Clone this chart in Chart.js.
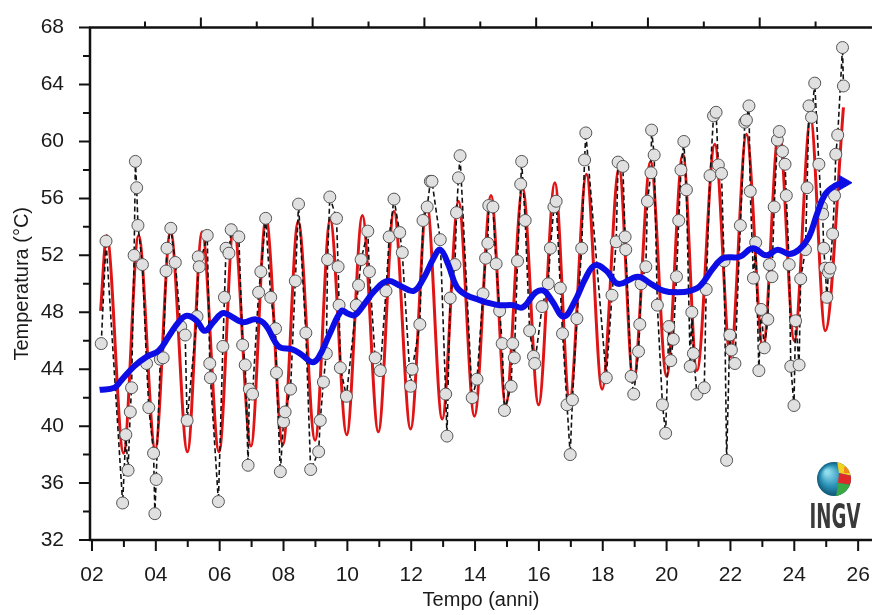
<!DOCTYPE html>
<html>
<head>
<meta charset="utf-8">
<title>Temperatura - serie temporale</title>
<script src="https://cdn.jsdelivr.net/npm/chart.js@4.4.1/dist/chart.umd.min.js"></script>
<style>
  html, body { margin: 0; padding: 0; background: #fff; }
  #contenitore { width: 882px; height: 615px; position: relative; }
</style>
</head>
<body>
<div id="contenitore"><canvas id="grafico"></canvas></div>
<script>
// ==========================================
// DATI (anni: 2 = 2002, 26 = 2026)
// ==========================================

// misure (cerchi grigi + linea tratteggiata)
const anniOss = [
  2.29, 2.44, 2.96, 3.06, 3.13, 3.20, 3.24, 3.32, 3.36, 3.40, 3.44, 3.58, 3.71, 3.78, 3.93, 3.97, 4.01, 4.14, 4.23, 4.32, 4.35, 4.47, 4.61, 4.78, 4.92, 4.98,
  5.29, 5.33, 5.36, 5.61, 5.69, 5.71, 5.96, 6.10, 6.15, 6.20, 6.29, 6.36, 6.60, 6.72, 6.80, 6.89, 6.93, 7.03, 7.22, 7.29, 7.44, 7.60, 7.75, 7.78, 7.90, 8.00, 8.05, 8.22, 8.37, 8.47, 8.70, 8.85, 9.10, 9.15, 9.25, 9.34, 9.38, 9.45, 9.66, 9.71, 9.74, 9.78, 9.97,
  10.28, 10.35, 10.43, 10.64, 10.69, 10.87, 11.03, 11.21, 11.31, 11.46, 11.64, 11.72, 11.98, 12.03, 12.27, 12.37, 12.50, 12.60, 12.65, 12.91, 13.08, 13.12, 13.22, 13.37, 13.42, 13.48, 13.53, 13.91, 14.06, 14.25, 14.33, 14.40, 14.43, 14.56, 14.66, 14.77, 14.85, 14.92, 15.13, 15.18, 15.23, 15.33, 15.43, 15.46, 15.57, 15.71, 15.83, 15.87,
  16.10, 16.29, 16.36, 16.47, 16.54, 16.67, 16.74, 16.88, 16.98, 17.05, 17.19, 17.34, 17.43, 17.47, 18.11, 18.29, 18.42, 18.48, 18.63, 18.70, 18.72, 18.89, 18.97, 19.12, 19.16, 19.20, 19.35, 19.40, 19.51, 19.53, 19.61, 19.71, 19.87, 19.97,
  20.07, 20.13, 20.21, 20.31, 20.38, 20.45, 20.54, 20.62, 20.74, 20.79, 20.84, 20.95, 21.18, 21.24, 21.36, 21.47, 21.55, 21.62, 21.72, 21.80, 21.88, 21.98, 22.03, 22.14, 22.31, 22.45, 22.50, 22.58, 22.62, 22.72, 22.79, 22.89, 22.96, 23.06, 23.17, 23.22, 23.30, 23.37, 23.47, 23.53, 23.63, 23.71, 23.75, 23.84, 23.89, 23.99, 24.04, 24.15, 24.20, 24.35, 24.40, 24.46, 24.54, 24.64, 24.77, 24.85, 24.89, 24.92, 24.97, 25.02, 25.07, 25.12, 25.20, 25.26, 25.30, 25.36, 25.51, 25.54
];
const tempOss = [
  45.8, 53.0, 34.6, 39.4, 36.9, 41.0, 42.7, 52.0, 58.6, 56.75, 54.1, 51.35, 44.4, 41.3, 38.1, 33.85, 36.25, 44.7, 44.8, 50.9, 52.5, 53.9, 51.5, 47.0, 46.4, 40.4,
  47.7, 51.9, 51.2, 53.4, 44.4, 43.4, 34.7, 45.6, 49.05, 52.5, 52.15, 53.8, 53.3, 45.7, 44.3, 37.25, 42.6, 42.25, 49.4, 50.85, 54.6, 49.05, 46.85, 43.75, 36.8, 40.3, 41.0, 42.6, 50.2, 55.6, 46.55, 36.95, 38.2, 40.4, 43.1, 45.1, 51.7, 56.1, 54.6, 51.2, 48.5, 44.1, 42.1,
  48.5, 49.9, 51.7, 53.7, 50.85, 44.8, 43.9, 49.5, 53.3, 55.95, 53.6, 52.2, 42.8, 44.0, 47.15, 54.45, 55.4, 57.2, 57.2, 53.1, 42.25, 39.3, 49.0, 51.35, 55.0, 57.45, 59.0, 42.0, 43.3, 49.3, 51.8, 52.85, 55.5, 55.4, 51.4, 48.1, 45.8, 41.1, 42.8, 45.8, 44.8, 51.6, 57.0, 58.6, 54.45, 46.7, 44.9, 44.4,
  48.4, 50.0, 52.5, 55.4, 55.8, 49.7, 46.5, 41.5, 38.0, 41.85, 47.55, 52.5, 58.7, 60.6, 43.4, 49.2, 52.95, 58.55, 58.25, 53.3, 52.4, 43.5, 42.25, 45.25, 47.15, 50.0, 51.2, 55.8, 57.8, 60.8, 59.05, 48.5, 41.5, 39.5,
  47.0, 44.6, 46.1, 50.5, 54.45, 58.0, 60.0, 56.6, 44.2, 48.0, 45.1, 42.25, 42.7, 49.6, 57.6, 61.8, 62.05, 58.35, 57.75, 51.6, 37.6, 46.4, 45.35, 44.4, 54.1, 61.35, 61.5, 62.5, 56.5, 50.4, 52.9, 43.9, 48.2, 45.5, 47.5, 51.35, 50.5, 55.4, 60.1, 60.7, 59.3, 58.4, 56.2, 51.35, 44.2, 41.45, 47.4, 44.3, 50.35, 52.4, 56.75, 62.5, 61.7, 64.1, 58.4, 55.4, 54.9, 52.5, 51.1, 49.05, 50.8, 51.1, 53.5, 56.2, 59.1, 60.45, 66.6, 63.9
];

// modello stagionale (linea rossa): massimi e minimi
const anniMod = [2.27, 2.46, 2.99, 3.46, 3.98, 4.46, 4.99, 5.45, 5.98, 6.44, 6.98, 7.45, 7.98, 8.46, 8.99, 9.46, 9.98, 10.47, 10.97, 11.46, 11.98, 12.49, 12.97, 13.48, 13.98, 14.50, 14.96, 15.49, 15.99, 16.50, 16.96, 17.49, 17.98, 18.51, 18.96, 19.50, 20.00, 20.51, 20.95, 21.51, 22.00, 22.50, 23.02, 23.52, 24.00, 24.51, 24.97, 25.54];
const tempMod = [48.1, 53.4, 38.1, 53.4, 38.4, 53.7, 38.2, 53.65, 38.2, 54.1, 38.6, 54.6, 38.7, 54.4, 39.0, 54.5, 39.4, 54.8, 39.6, 55.1, 39.8, 55.6, 40.5, 55.8, 40.7, 56.2, 41.5, 56.7, 41.5, 57.1, 41.8, 57.7, 42.6, 58.1, 43.1, 58.6, 43.5, 59.1, 43.9, 59.8, 44.85, 60.5, 45.5, 60.9, 46.0, 61.6, 46.7, 62.4];

// andamento medio (linea blu con freccia)
const anniTrend = [2.24, 2.70, 2.91, 3.32, 3.73, 4.09, 4.40, 4.71, 4.97, 5.28, 5.53, 5.80, 6.05, 6.21, 6.72, 7.13, 7.44, 7.85, 8.27, 8.58, 8.89, 9.09, 9.45, 9.82, 10.02, 10.23, 10.54, 10.85, 11.25, 11.67, 12.08, 12.39, 12.70, 12.91, 13.17, 13.42, 13.73, 14.09, 14.35, 14.77, 15.18, 15.49, 15.90, 16.16, 16.41, 16.78, 17.13, 17.44, 17.75, 18.12, 18.48, 19.10, 19.51, 19.92, 20.33, 20.74, 21.05, 21.46, 21.77, 22.29, 22.70, 23.12, 23.48, 23.84, 24.15, 24.46, 24.71, 24.97, 25.28, 25.54];
const tempTrend = [42.55, 42.7, 43.2, 44.2, 44.9, 45.3, 46.3, 47.3, 47.75, 47.4, 46.7, 47.3, 47.9, 47.9, 47.3, 47.5, 47.1, 45.6, 45.4, 45.0, 44.5, 44.8, 46.5, 48.1, 47.9, 47.8, 48.6, 49.5, 50.2, 49.85, 49.5, 50.4, 51.8, 52.4, 51.3, 49.8, 49.2, 48.9, 48.7, 48.5, 48.5, 48.35, 49.4, 49.5, 48.8, 47.7, 48.8, 50.3, 51.3, 50.9, 50.0, 50.5, 50.0, 49.5, 49.4, 49.5, 49.85, 51.1, 51.8, 51.9, 52.5, 52.0, 52.4, 52.1, 52.4, 53.3, 54.9, 56.3, 56.9, 57.1];

// etichette degli assi
const tickAnni = [2, 4, 6, 8, 10, 12, 14, 16, 18, 20, 22, 24, 26];
const tickTemp = [32, 36, 40, 44, 48, 52, 56, 60, 64, 68];

const coppie = (xs, ys) => xs.map((x, i) => ({ x: x, y: ys[i] }));

const FONT = "'Liberation Sans', Arial, sans-serif";
const NERO = '#111';

// sfondo bianco
const sfondoPlugin = {
  id: 'sfondo',
  beforeDraw(chart) {
    const ctx = chart.ctx;
    ctx.save();
    ctx.fillStyle = '#fff';
    ctx.fillRect(0, 0, chart.width, chart.height);
    ctx.restore();
  }
};

// assi spessi con tacche maggiori e minori
const assiPlugin = {
  id: 'assi',
  afterDatasetsDraw(chart) {
    const { ctx, chartArea: ca, scales } = chart;
    ctx.save();
    ctx.strokeStyle = NERO;
    ctx.lineCap = 'butt';

    // cornice: sinistra, basso, alto
    ctx.lineWidth = 2.5;
    ctx.beginPath();
    ctx.moveTo(ca.left, ca.top); ctx.lineTo(ca.left, ca.bottom);
    ctx.moveTo(ca.left - 1, ca.bottom); ctx.lineTo(ca.right, ca.bottom);
    ctx.moveTo(ca.left - 1, ca.top); ctx.lineTo(ca.right, ca.top);
    ctx.stroke();

    ctx.lineWidth = 2;
    ctx.beginPath();
    // asse x: ogni anno, lunghe sugli anni pari
    for (let a = 2; a <= 26; a++) {
      const px = scales.x.getPixelForValue(a);
      const l = a % 2 === 0 ? 11 : 7;
      ctx.moveTo(px, ca.bottom); ctx.lineTo(px, ca.bottom + l);
    }
    // asse y: ogni 2 gradi, lunghe ogni 4
    for (let t = 32; t <= 68; t += 2) {
      const py = scales.y.getPixelForValue(t);
      const l = t % 4 === 0 ? 11 : 7;
      ctx.moveTo(ca.left, py); ctx.lineTo(ca.left - l, py);
    }
    // asse superiore
    const s2 = scales.xSup;
    for (let k = 0; k <= 12; k++) {
      const px = s2.getPixelForValue(k);
      const l = k % 2 === 1 ? 10 : 6;
      ctx.moveTo(px, ca.top); ctx.lineTo(px, ca.top - l);
    }
    ctx.stroke();
    ctx.restore();
  }
};

// logo INGV in basso a destra
const logoPlugin = {
  id: 'logo',
  afterDraw(chart) {
    const ctx = chart.ctx;
    const cx = 834, cy = 479, r = 17;
    ctx.save();
    ctx.beginPath();
    ctx.arc(cx, cy, r, 0, Math.PI * 2);
    const g = ctx.createRadialGradient(cx - 7, cy - 7, 2, cx, cy, r);
    g.addColorStop(0, '#8fdcec');
    g.addColorStop(0.55, '#2b93b8');
    g.addColorStop(1, '#0f5676');
    ctx.fillStyle = g;
    ctx.fill();
    ctx.clip();
    ctx.fillStyle = '#f1d21e';
    ctx.beginPath(); ctx.moveTo(cx + 3, cy - 18); ctx.lineTo(cx + 18, cy - 18); ctx.lineTo(cx + 18, cy - 3); ctx.lineTo(cx + 5, cy - 6); ctx.closePath(); ctx.fill();
    ctx.fillStyle = '#e02a2a';
    ctx.beginPath(); ctx.moveTo(cx + 5, cy - 6); ctx.lineTo(cx + 18, cy - 3); ctx.lineTo(cx + 18, cy + 6); ctx.lineTo(cx + 4, cy + 4); ctx.closePath(); ctx.fill();
    ctx.fillStyle = '#39a845';
    ctx.beginPath(); ctx.moveTo(cx + 4, cy + 4); ctx.lineTo(cx + 18, cy + 6); ctx.lineTo(cx + 18, cy + 18); ctx.lineTo(cx + 2, cy + 18); ctx.closePath(); ctx.fill();
    ctx.fillStyle = '#f08a1c';
    ctx.fillRect(cx + 10, cy - 12, 5, 6);
    ctx.restore();

    ctx.save();
    ctx.fillStyle = '#3a3a3a';
    ctx.font = "bold 33px 'DejaVu Sans'";
    ctx.textAlign = 'center';
    ctx.textBaseline = 'alphabetic';
    ctx.translate(835, 528);
    ctx.scale(0.55, 1);
    ctx.fillText('INGV', 0, 0);
    ctx.restore();
  }
};

new Chart(document.getElementById('grafico'), {
  type: 'line',
  data: {
    datasets: [
      {
        label: 'Andamento',
        data: coppie(anniTrend, tempTrend),
        borderColor: '#0d0de6',
        backgroundColor: '#0d0de6',
        borderWidth: 6,
        tension: 0.4,
        pointRadius: ctx => ctx.dataIndex === anniTrend.length - 1 ? 8.5 : 0,
        pointStyle: 'triangle',
        pointRotation: 90,
        pointBorderWidth: 1,
        fill: false,
        order: 0
      },
      {
        label: 'Misure',
        data: coppie(anniOss, tempOss),
        borderColor: NERO,
        borderWidth: 1.6,
        borderDash: [5, 3],
        tension: 0,
        pointRadius: 6,
        pointBackgroundColor: '#e0e0e0',
        pointBorderColor: '#555',
        pointBorderWidth: 1,
        fill: false,
        order: 1
      },
      {
        label: 'Modello',
        data: coppie(anniMod, tempMod),
        borderColor: '#e01414',
        borderWidth: 3,
        cubicInterpolationMode: 'monotone',
        pointRadius: 0,
        fill: false,
        order: 2
      }
    ]
  },
  options: {
    responsive: true,
    maintainAspectRatio: false,
    animation: false,
    layout: { padding: { top: 19, left: 0, right: 0, bottom: 0 } },
    plugins: { legend: { display: false }, tooltip: { enabled: false } },
    scales: {
      x: {
        type: 'linear',
        position: 'bottom',
        min: 1.938,
        max: 26.433,
        afterBuildTicks: s => { s.ticks = tickAnni.map(v => ({ value: v })); },
        afterFit: s => { s.height = 75; },
        grid: { display: true, drawOnChartArea: false, color: 'rgba(0,0,0,0)', tickLength: 11 },
        border: { display: false },
        ticks: {
          autoSkip: false, maxRotation: 0, padding: 12, color: '#1a1a1a',
          font: { family: FONT, size: 21 },
          callback: v => String(v).padStart(2, '0')
        },
        title: {
          display: true, text: 'Tempo (anni)', color: '#1a1a1a',
          font: { family: FONT, size: 20 }, padding: { top: 0, bottom: 3 }
        }
      },
      xSup: {
        type: 'linear',
        position: 'top',
        min: -0.984,
        max: 13.009,
        afterFit: s => { s.height = 0; },
        grid: { display: false },
        border: { display: false },
        ticks: { display: false }
      },
      y: {
        type: 'linear',
        min: 32,
        max: 68,
        afterBuildTicks: s => { s.ticks = tickTemp.map(v => ({ value: v })); },
        afterFit: s => { s.width = 90; },
        grid: { display: true, drawOnChartArea: false, color: 'rgba(0,0,0,0)', tickLength: 11 },
        border: { display: false },
        ticks: { padding: 15, color: '#1a1a1a', font: { family: FONT, size: 21 } },
        title: {
          display: true, text: 'Temperatura (°C)', color: '#1a1a1a',
          font: { family: FONT, size: 20 }, padding: { top: 10, bottom: 0 }
        }
      }
    }
  },
  plugins: [sfondoPlugin, assiPlugin, logoPlugin]
});
</script>
</body>
</html>
